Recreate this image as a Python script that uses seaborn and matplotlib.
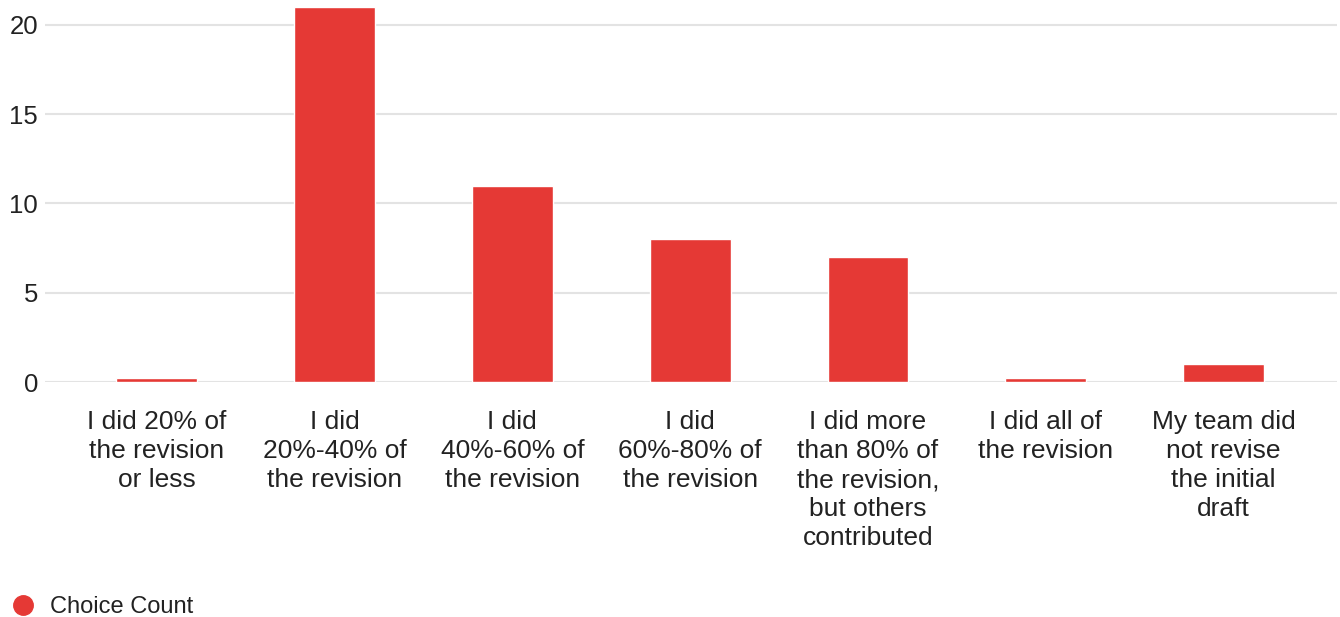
import matplotlib
matplotlib.use("Agg")
import matplotlib.pyplot as plt
from matplotlib.lines import Line2D
import seaborn as sns
import pandas as pd

categories = [
    "I did 20% of\nthe revision\nor less",
    "I did\n20%-40% of\nthe revision",
    "I did\n40%-60% of\nthe revision",
    "I did\n60%-80% of\nthe revision",
    "I did more\nthan 80% of\nthe revision,\nbut others\ncontributed",
    "I did all of\nthe revision",
    "My team did\nnot revise\nthe initial\ndraft",
]
counts = [0, 21, 11, 8, 7, 0, 1]
y_ticks = [0, 5, 10, 15, 20]
series_name = "Choice Count"

BAR_COLOR = "#E53935"
TEXT_COLOR = "#222222"
GRID_COLOR = "#E3E3E3"
ZERO_STUB = 0.22  # minimal visible height the source draws for zero counts

sns.set_theme(style="white")
plt.rcParams["font.family"] = ["Liberation Sans", "DejaVu Sans"]

df = pd.DataFrame({"category": categories,
                   "shown": [c if c > 0 else ZERO_STUB for c in counts]})

fig = plt.figure(figsize=(13.4, 6.17), dpi=100)
ax = fig.add_axes([45 / 1340, 235 / 617, (1337 - 45) / 1340, 382 / 617])

sns.barplot(data=df, x="category", y="shown", color=BAR_COLOR, width=0.455,
            saturation=1, ax=ax, zorder=3)

ax.set_xlim(-0.628, 6.637)
ax.set_ylim(0, 21.4)
ax.set_yticks(y_ticks)
ax.set_yticklabels([str(t) for t in y_ticks], fontsize=18.5, color=TEXT_COLOR)
ax.yaxis.grid(True, color=GRID_COLOR, linewidth=1.5, zorder=0)
ax.set_axisbelow(True)
for s in ax.spines.values():
    s.set_visible(False)
ax.tick_params(axis="y", length=0, pad=5)
ax.tick_params(axis="x", length=0, pad=20)
ax.set_xticks(range(len(categories)))
ax.set_xticklabels(categories, fontsize=19, color=TEXT_COLOR, linespacing=1.27,
                   ha="center", va="top")
ax.set_xlabel("")
ax.set_ylabel("")

handle = Line2D([], [], marker="o", linestyle="none", markersize=14,
                markerfacecolor=BAR_COLOR, markeredgecolor=BAR_COLOR)
fig.legend([handle], [series_name], loc="center left",
           bbox_to_anchor=(11 / 1340, 1 - 607 / 617), frameon=False,
           fontsize=17, handlelength=1.0, handletextpad=0.65,
           borderaxespad=0, borderpad=0.0, labelcolor=TEXT_COLOR)

fig.savefig("out.png", dpi=100, facecolor="white")
